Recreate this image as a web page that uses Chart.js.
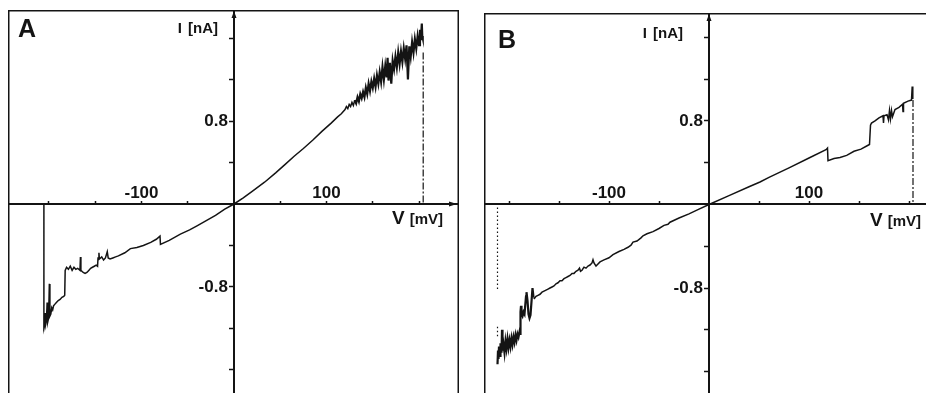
<!DOCTYPE html>
<html>
<head>
<meta charset="utf-8">
<script src="https://cdn.jsdelivr.net/npm/chart.js@4.4.0/dist/chart.umd.min.js"></script>
<style>
  html, body { margin: 0; background: #fff; overflow: hidden; width: 926px; height: 393px; }
  .panel { position: absolute; }
  #wrapA { left: 8px; top: 10px; }
  #wrapB { left: 484px; top: 13px; }
</style>
</head>
<body>
<div class="panel" id="wrapA"><canvas id="chartA" width="451" height="391"></canvas></div>
<div class="panel" id="wrapB"><canvas id="chartB" width="452" height="391"></canvas></div>
<script>
// axis ticks (mV and nA) and which ones carry a label
const xTickValues = [-200, -150, -100, -50, 50, 100, 150, 200];
const xLabelled = [-100, 100];
const yTickValues = [-1.6, -1.2, -0.8, -0.4, 0.4, 0.8, 1.2, 1.6];
const yLabelled = [-0.8, 0.8];

// panel A: current trace
const aVolt = [-205.5, -205.5, -204.8, -204.3, -203.8, -202.8, -202, -201.4, -200.4, -199.6,
  -199, -198, -197, -196, -195, -194, -192, -190, -188, -186, -184, -183, -182.5, -181, -179,
  -177, -175, -173, -171, -169, -166.5, -166, -165.5, -163, -161, -159, -157, -155, -153, -151,
  -149, -147.5, -147, -146, -145.5, -143, -141, -139, -137, -136, -134, -131, -128, -125, -118,
  -112, -105, -98, -90, -84, -80, -79.5, -70, -58, -48, -40, -30, -20, -10, 0,
  10, 20, 33, 45, 55, 65, 75, 85, 95, 105, 112, 116,
  120, 121.5, 123, 124.5, 126, 127.5, 129, 130.5, 132, 133.5, 135, 136.5, 138, 139.5, 141,
  142.5, 144, 145.5, 147, 148.5, 150, 151.5, 153, 154.5, 156, 157.5, 159, 160.5, 162, 163.5,
  165, 166, 167, 168.5, 170, 171.5, 173, 174.5, 176, 177.5, 179, 180.5, 182, 183.5, 185,
  186.5, 188, 189.5, 191, 192.5, 194, 195.5, 197, 198.5, 200, 201, 202, 203, 203.5, 204];
const aCurr = [0, -1.19, -1.16, -1.05, -1.17, -1.13, -0.95, -1.14, -1.10, -0.77,
  -1.08, -1.06, -1.00, -1.02, -0.98, -0.97, -0.95, -0.93, -0.92, -0.90, -0.89, -0.88, -0.64, -0.61, -0.63,
  -0.60, -0.64, -0.61, -0.63, -0.62, -0.64, -0.51, -0.64, -0.66, -0.67, -0.66, -0.64, -0.62, -0.61, -0.60,
  -0.59, -0.60, -0.52, -0.47, -0.53, -0.51, -0.54, -0.52, -0.46, -0.52, -0.53, -0.52, -0.51, -0.50, -0.47,
  -0.43, -0.42, -0.40, -0.37, -0.34, -0.31, -0.39, -0.35, -0.29, -0.25, -0.21, -0.16, -0.11, -0.05, 0,
  0.06, 0.125, 0.21, 0.30, 0.38, 0.46, 0.535, 0.615, 0.70, 0.78, 0.84, 0.87,
  0.91, 0.94, 0.92, 0.96, 0.94, 0.98, 0.95, 1.00, 0.97, 1.03, 0.99, 1.06, 1.02, 1.08, 1.03,
  1.12, 1.06, 1.16, 1.09, 1.18, 1.12, 1.21, 1.13, 1.24, 1.16, 1.27, 1.18, 1.32, 1.20, 1.33,
  1.22, 1.41, 1.19, 1.36, 1.16, 1.38, 1.30, 1.42, 1.32, 1.46, 1.35, 1.47, 1.37, 1.50, 1.40,
  1.53, 1.20, 1.52, 1.42, 1.56, 1.46, 1.59, 1.50, 1.62, 1.53, 1.68, 1.58, 1.74, 1.62, 1.60];
// panel A: dash-dot marker at the end of the ramp
const aEndVolt = [204.5, 204.5];
const aEndCurr = [1.46, 0];

// panel B: current trace
const bVolt = [-211.5, -211, -210.5, -210, -209, -208.5, -207.5, -207, -206.5, -205.5, -204.5,
  -203.5, -202.5, -201.5, -200.5, -199.5, -198.5, -197.5, -196.5, -195.5, -194.5, -193.5, -192.5,
  -191.5, -190.5, -189.5, -189, -188.5, -188, -187.5, -186.5, -185.5, -184.5, -183, -182.5, -181.5,
  -180.5, -179.5, -178.5, -177.5, -176.5, -175.5, -174.5, -173, -171, -169, -167, -165, -163, -161,
  -159, -157, -155, -153, -151, -149, -147, -145, -143, -141, -139, -137, -135, -133, -131, -129.5,
  -128.5, -127, -125, -123, -121, -119, -117, -116, -115, -113, -111, -109, -105, -100, -96, -90,
  -85, -81, -78, -76, -72, -68, -66, -62, -56, -50, -45, -41, -39, -30, -20, -10, 0,
  20, 40, 51, 60, 80, 100, 117, 118.5, 119, 125, 131, 137.7, 145, 152, 157.7, 160.5, 161.5, 162.5,
  166, 170, 174, 174.5, 175, 178, 179.5, 180.5, 181.5, 182.5, 183.5, 186, 190, 193.5, 194, 194.5,
  199, 202.5, 203.2, 203.8];
const bCurr = [-1.53, -1.40, -1.48, -1.36, -1.45, -1.33, -1.42, -1.20, -1.40, -1.34, -1.42,
  -1.31, -1.38, -1.29, -1.37, -1.30, -1.36, -1.28, -1.34, -1.27, -1.32, -1.25, -1.30,
  -1.24, -1.27, -1.22, -1.24, -1.03, -0.97, -1.05, -1.07, -1.03, -1.05, -0.88, -0.84, -0.92,
  -1.05, -1.09, -1.06, -0.93, -0.80, -0.89, -0.90, -0.88, -0.87, -0.86, -0.84, -0.83, -0.82, -0.81,
  -0.80, -0.79, -0.78, -0.76, -0.75, -0.73, -0.73, -0.71, -0.70, -0.69, -0.68, -0.66, -0.66, -0.64, -0.63, -0.61,
  -0.64, -0.63, -0.60, -0.61, -0.59, -0.58, -0.56, -0.53, -0.56, -0.59, -0.57, -0.55, -0.53, -0.51, -0.48, -0.45,
  -0.43, -0.41, -0.39, -0.36, -0.35, -0.32, -0.30, -0.28, -0.26, -0.23, -0.20, -0.19, -0.17, -0.13, -0.09, -0.045, 0,
  0.085, 0.17, 0.215, 0.26, 0.35, 0.445, 0.525, 0.54, 0.42, 0.44, 0.45, 0.47, 0.51, 0.53, 0.56, 0.575, 0.76, 0.78,
  0.80, 0.83, 0.85, 0.78, 0.85, 0.86, 0.81, 0.90, 0.82, 0.90, 0.84, 0.91, 0.93, 0.96, 0.89, 0.97,
  0.99, 1.00, 1.13, 1.01];
// panel B: dash-dot marker at the end, dotted marker at the start
const bEndVolt = [204, 204];
const bEndCurr = [1.0, 0];
const bStartVolt = [-211.5, -211.5, -211.5, -211.5, -211.5];
const bStartCurr = [-0.03, -0.82, null, -1.17, -1.27];

const ink = '#141414';
const tickFont = { family: '"Liberation Sans", Arial, sans-serif', size: 17, weight: 'bold' };
const pts = (xs, ys) => xs.map((v, i) => ({ x: v, y: ys[i] }));

const panelDecor = {
  id: 'panelDecor',
  afterDraw(chart, args, o) {
    const { ctx, chartArea: a, scales: { x, y } } = chart;
    const x0 = x.getPixelForValue(0);
    const y0 = y.getPixelForValue(0);
    ctx.save();
    ctx.strokeStyle = ink;
    ctx.fillStyle = ink;
    ctx.lineWidth = 1.5;
    ctx.strokeRect(a.left + 0.75, a.top + 0.75, a.width - 1.5, a.height - 1.5);
    // arrow heads
    ctx.beginPath();
    ctx.moveTo(x0, a.top + 1);
    ctx.lineTo(x0 - 2.5, a.top + 8);
    ctx.lineTo(x0 + 2.5, a.top + 8);
    ctx.fill();
    ctx.beginPath();
    ctx.moveTo(a.right - 2, y0);
    ctx.lineTo(a.right - 10, y0 - 2.5);
    ctx.lineTo(a.right - 10, y0 + 2.5);
    ctx.fill();
    // panel letter
    ctx.textBaseline = 'alphabetic';
    ctx.textAlign = 'left';
    ctx.font = 'bold 25px "Liberation Sans", Arial, sans-serif';
    ctx.fillText(o.letter, a.left + o.letterDx, a.top + o.letterDy);
    // current axis name
    ctx.textAlign = 'right';
    ctx.font = 'bold 15px "Liberation Sans", Arial, sans-serif';
    const ux = x0 - o.unitGap;
    ctx.fillText('[nA]', ux, a.top + o.unitDy);
    const w1 = ctx.measureText('[nA]').width;
    ctx.fillText('I', ux - w1 - 6, a.top + o.unitDy);
    // voltage axis name
    ctx.font = 'bold 15px "Liberation Sans", Arial, sans-serif';
    const vx = a.right - o.voltInset;
    ctx.fillText('[mV]', vx, y0 + o.voltDy);
    const w2 = ctx.measureText('[mV]').width;
    ctx.font = 'bold 19px "Liberation Sans", Arial, sans-serif';
    ctx.fillText('V', vx - w2 - 5, y0 + o.voltDy);
    ctx.restore();
  }
};

function makePanel(id, p) {
  return new Chart(document.getElementById(id), {
    type: 'line',
    data: { datasets: p.datasets },
    options: {
      responsive: false,
      animation: false,
      events: [],
      layout: { padding: 0 },
      elements: { point: { radius: 0 }, line: { tension: 0 } },
      plugins: { legend: { display: false }, tooltip: { enabled: false }, panelDecor: p.decor },
      scales: {
        x: {
          type: 'linear',
          min: p.xMin, max: p.xMax,
          position: { y: 0 },
          afterBuildTicks: s => { s.ticks = xTickValues.map(v => ({ value: v })); },
          afterFit: s => { s.height = 0; s.paddingLeft = s.paddingRight = s.paddingTop = s.paddingBottom = 0; },
          grid: { display: true, drawOnChartArea: false, drawTicks: true, tickLength: -4, tickWidth: 1.5, tickColor: ink },
          border: { display: true, width: 2, color: ink },
          ticks: {
            autoSkip: false, maxRotation: 0, padding: -17, color: ink, font: tickFont,
            callback: v => xLabelled.includes(v) ? String(v) : ''
          }
        },
        y: {
          type: 'linear',
          min: p.yMin, max: p.yMax,
          position: { x: 0 },
          afterBuildTicks: s => { s.ticks = yTickValues.map(v => ({ value: v })); },
          afterFit: s => { s.width = 0; s.paddingLeft = s.paddingRight = s.paddingTop = s.paddingBottom = 0; },
          grid: { display: true, drawOnChartArea: false, drawTicks: true, tickLength: 4, tickWidth: 1.5, tickColor: ink },
          border: { display: true, width: 2, color: ink },
          ticks: {
            autoSkip: false, color: ink, font: tickFont,
            // labels sit right on the axis here, so a trailing space keeps them clear of the tick
            callback: v => yLabelled.includes(v) ? String(v) + ' \u200A' : ''
          }
        }
      }
    },
    plugins: [panelDecor]
  });
}

// noisy stretches of the record look heavier in the original
const heavyWhen = (lo, hi) => ({
  borderWidth: c => (c.p0.parsed.x >= lo && c.p1.parsed.x <= hi) ? 2.2 : 1.5
});

makePanel('chartA', {
  xMin: -244.3, xMax: 243.2, yMin: -1.899, yMax: 1.87,
  decor: { letter: 'A', letterDx: 10, letterDy: 27, unitGap: 16, unitDy: 23, voltInset: 16, voltDy: 20 },
  datasets: [
    { data: pts(aVolt, aCurr), borderColor: ink, borderWidth: 1.5, segment: heavyWhen(130, 210) },
    { data: pts(aEndVolt, aEndCurr), borderColor: ink, borderWidth: 1.2, borderDash: [7, 2, 2, 2] }
  ]
});

makePanel('chartB', {
  xMin: -225, xMax: 227, yMin: -1.911, yMax: 1.834,
  decor: { letter: 'B', letterDx: 14, letterDy: 35, unitGap: 26, unitDy: 25, voltInset: 15, voltDy: 22 },
  datasets: [
    { data: pts(bVolt, bCurr), borderColor: ink, borderWidth: 1.5, segment: heavyWhen(-215, -175) },
    { data: pts(bEndVolt, bEndCurr), borderColor: ink, borderWidth: 1.2, borderDash: [7, 2, 2, 2] },
    { data: pts(bStartVolt, bStartCurr), borderColor: ink, borderWidth: 1.2, borderDash: [1.5, 2.5] }
  ]
});
</script>
</body>
</html>
